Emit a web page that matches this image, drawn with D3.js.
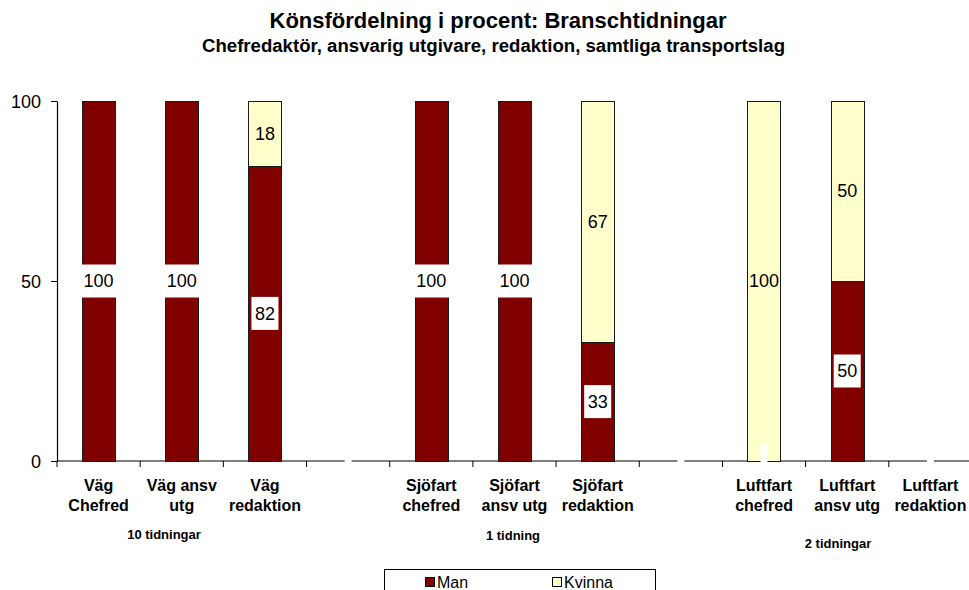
<!DOCTYPE html>
<html>
<head>
<meta charset="utf-8">
<script src="https://cdn.jsdelivr.net/npm/d3@7"></script>
<style>
  html, body { margin: 0; padding: 0; background: #fff; }
  svg { display: block; font-family: "Liberation Sans", Arial, sans-serif; }
</style>
</head>
<body>
<svg id="chart" width="969" height="590"></svg>
<script>
// ---- data ----
const categories = ["vag_chef", "vag_ansv", "vag_red", "gap1", "sjo_chef", "sjo_ansv", "sjo_red", "gap2", "luft_chef", "luft_ansv", "luft_red"];
const categoryLines = [
  ["Väg", "Chefred"], ["Väg ansv", "utg"], ["Väg", "redaktion"], [],
  ["Sjöfart", "chefred"], ["Sjöfart", "ansv utg"], ["Sjöfart", "redaktion"], [],
  ["Luftfart", "chefred"], ["Luftfart", "ansv utg"], ["Luftfart", "redaktion"]
];
const man    = [100, 100, 82, 0, 100, 100, 33, 0, 0, 50, 0];
const kvinna = [0, 0, 18, 0, 0, 0, 67, 0, 100, 50, 0];
const seriesNames = ["Man", "Kvinna"];
const yTicks = [0, 50, 100];
const groupLabels = ["10 tidningar", "1 tidning", "2 tidningar"];
const title = "Könsfördelning i procent: Branschtidningar";
const subtitle = "Chefredaktör, ansvarig utgivare, redaktion, samtliga transportslag";

// ---- layout ----
const svg = d3.select("#chart");
const colors = { Man: "#800000", Kvinna: "#FFFFCC" };
const x0 = 57, x1 = 972, yTop = 101, yBot = 461;

const x = d3.scaleBand().domain(categories).range([x0, x1]).paddingInner(0.6).paddingOuter(0.3);
const y = d3.scaleLinear().domain([0, 100]).range([yBot, yTop]);
const step = x.step();

// titles
svg.append("text").attr("x", 498).attr("y", 28).attr("text-anchor", "middle")
  .attr("font-size", 21.5).attr("font-weight", "bold")
  .attr("textLength", 457).attr("lengthAdjust", "spacingAndGlyphs").text(title);
svg.append("text").attr("x", 493.5).attr("y", 52).attr("text-anchor", "middle")
  .attr("font-size", 17.5).attr("font-weight", "bold")
  .attr("textLength", 583).attr("lengthAdjust", "spacingAndGlyphs").text(subtitle);

// y axis
const yAxis = d3.axisLeft(y).tickValues(yTicks).tickSize(6).tickPadding(10).tickSizeOuter(0);
const gy = svg.append("g").attr("transform", `translate(${x0},0)`).call(yAxis);
gy.select(".domain").attr("stroke", "#000").attr("stroke-width", 1.2);
gy.selectAll(".tick line").attr("stroke", "#000");
gy.selectAll(".tick text").attr("font-size", 18).attr("font-family", "Liberation Sans, Arial, sans-serif").attr("fill", "#000").attr("dy", "0.36em");

// x axis line + ticks at slot boundaries
const gx = svg.append("g");
gx.append("line").attr("x1", x0).attr("x2", x1).attr("y1", yBot).attr("y2", yBot)
  .attr("stroke", "#000").attr("stroke-width", 1.2);
gx.selectAll("line.tick").data(d3.range(categories.length + 1)).join("line")
  .attr("class", "tick")
  .attr("x1", i => x0 + i * step).attr("x2", i => x0 + i * step)
  .attr("y1", yBot).attr("y2", yBot + 6).attr("stroke", "#000");

// stacked data
const rows = categories.map((c, i) => ({ cat: c, Man: man[i], Kvinna: kvinna[i] }));
const stack = d3.stack().keys(seriesNames)(rows);

const bw = x.bandwidth();
svg.append("g").selectAll("g").data(stack).join("g")
  .attr("fill", d => colors[d.key])
  .selectAll("rect").data(d => d.filter(s => s[1] - s[0] > 0)).join("rect")
  .attr("x", d => Math.round(x(d.data.cat)) + 0.5)
  .attr("width", Math.round(bw))
  .attr("y", d => Math.round(y(d[1])) + 0.5)
  .attr("height", d => Math.round(y(d[0])) - Math.round(y(d[1])))
  .attr("stroke", "#1a1a1a").attr("stroke-width", 1);

// data labels
const labG = svg.append("g").attr("font-size", 18);
stack.forEach(layer => {
  layer.forEach(s => {
    const v = s[1] - s[0];
    const cx = x(s.data.cat) + bw / 2;
    const cy = y((s[0] + s[1]) / 2);
    if (layer.key === "Man") {
      const txt = v > 0 ? String(v) : "";
      const t = labG.append("text").attr("x", cx).attr("y", cy).attr("dy", "0.36em")
        .attr("text-anchor", "middle").text(txt);
      const w = txt ? t.node().getComputedTextLength() : 0;
      labG.insert("rect", "text").attr("x", cx - w / 2 - 3.5).attr("y", cy - 16.5)
        .attr("width", w + 7).attr("height", 33).attr("fill", "#fff");
    } else if (v > 0) {
      labG.append("text").attr("x", cx).attr("y", cy).attr("dy", "0.36em")
        .attr("text-anchor", "middle").text(String(v));
    }
  });
});
labG.selectAll("text").raise();

// category labels
const cl = svg.append("g").attr("font-size", 16).attr("font-weight", "bold").attr("text-anchor", "middle");
categories.forEach((c, i) => {
  categoryLines[i].forEach((ln, j) => {
    cl.append("text").attr("x", x(c) + bw / 2).attr("y", 491 + j * 20).text(ln);
  });
});

// group labels
const gPos = [[164, 539], [513, 540], [838, 548]];
svg.append("g").attr("font-size", 13).attr("font-weight", "bold").attr("text-anchor", "middle")
  .selectAll("text").data(groupLabels).join("text")
  .attr("x", (d, i) => gPos[i][0]).attr("y", (d, i) => gPos[i][1]).text(d => d);

// legend
const lg = svg.append("g");
lg.append("rect").attr("x", 384.5).attr("y", 569.5).attr("width", 271).attr("height", 40)
  .attr("fill", "#fff").attr("stroke", "#000");
const lx = [425, 552];
seriesNames.forEach((n, i) => {
  lg.append("rect").attr("x", lx[i] + 0.5).attr("y", 577.5).attr("width", 9).attr("height", 9)
    .attr("fill", colors[n]).attr("stroke", "#000");
  lg.append("text").attr("x", lx[i] + 12).attr("y", 588).attr("font-size", 16).text(n);
});
</script>
</body>
</html>
